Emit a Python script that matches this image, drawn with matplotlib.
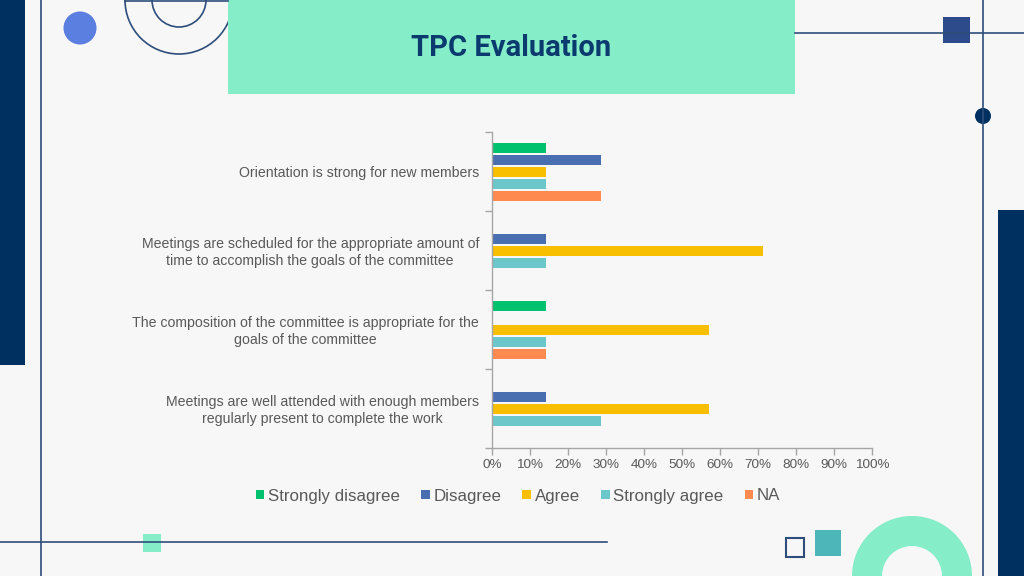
import matplotlib
matplotlib.use("Agg")
import matplotlib.pyplot as plt
from matplotlib.patches import Rectangle, Circle, Wedge, Arc
from matplotlib.lines import Line2D
from matplotlib.transforms import ScaledTranslation
import numpy as np

# ---- data ----
categories = [
    "Orientation is strong for new members",
    "Meetings are scheduled for the appropriate amount of\ntime to accomplish the goals of the committee",
    "The composition of the committee is appropriate for the\ngoals of the committee",
    "Meetings are well attended with enough members\nregularly present to complete the work",
]
series_names = ["Strongly disagree", "Disagree", "Agree", "Strongly agree", "NA"]
strongly_disagree = [14.3, 0, 14.3, 0]
disagree = [28.6, 14.3, 0, 14.3]
agree = [14.3, 71.4, 57.1, 57.1]
strongly_agree = [14.3, 14.3, 14.3, 28.6]
na = [28.6, 0, 14.3, 0]
series_values = [strongly_disagree, disagree, agree, strongly_agree, na]
series_colors = ["#00C16E", "#4A6FB0", "#F8BE00", "#6CC7CB", "#FF8A50"]
x_ticks = [0, 10, 20, 30, 40, 50, 60, 70, 80, 90, 100]
x_tick_labels = [f"{v}%" for v in x_ticks]
title = "TPC Evaluation"

W, H = 1024, 576
BG = "#F7F7F8"
NAVY = "#00305F"
LINE = "#2E4D7A"
FONT = ["Liberation Sans", "DejaVu Sans"]

fig = plt.figure(figsize=(W / 100, H / 100), dpi=100, facecolor=BG)

# ---- decoration layer (pixel coordinates) ----
deco = fig.add_axes([0, 0, 1, 1], zorder=0)
deco.set_xlim(0, W)
deco.set_ylim(H, 0)
deco.axis("off")
deco.set_facecolor(BG)

deco.add_patch(Rectangle((0, 0), 25, 365, color=NAVY, lw=0))
deco.add_patch(Rectangle((998, 210), 26, 366, color=NAVY, lw=0))
deco.add_line(Line2D([41, 41], [0, H], color=LINE, lw=1.2))
deco.add_line(Line2D([983, 983], [0, H], color=LINE, lw=1.2))
deco.add_line(Line2D([795, W], [33, 33], color=LINE, lw=1.2))
deco.add_line(Line2D([0, 607], [542, 542], color=LINE, lw=1.2))
deco.add_line(Line2D([125, 228], [0.5, 0.5], color=LINE, lw=1.2))
deco.add_patch(Circle((80, 28), 16.5, color="#5B7FE0", lw=0))
deco.add_patch(Arc((179, 0), 108, 108, theta1=0, theta2=180, color=LINE, lw=1.2))
deco.add_patch(Arc((179, 0), 54, 54, theta1=0, theta2=180, color=LINE, lw=1.2))
deco.add_patch(Rectangle((228, 0), 567, 94, color="#86EDC9", lw=0))
deco.add_patch(Rectangle((943, 17), 27, 26, color="#2D4A8A", lw=0))
deco.add_patch(Circle((983, 116), 8, color=NAVY, lw=0))
deco.add_patch(Rectangle((143, 534), 18, 18, color="#86EDC9", lw=0))
deco.add_patch(Rectangle((785.5, 537.5), 18, 19, facecolor="none", edgecolor=LINE, lw=1.5))
deco.add_patch(Rectangle((815, 530), 26, 26, color="#4DB6B8", lw=0))
deco.add_patch(Wedge((912, 576), 60, 180, 360, width=30, color="#86EDC9", lw=0))
deco.text(511, 48, title, ha="center", va="center", fontsize=21,
          fontweight="bold", color="#0B3A6E", family="Roboto")

# ---- chart ----
ax = fig.add_axes([492 / W, 1 - 448 / H, 380 / W, 316 / H], zorder=1)
ax.set_facecolor("none")
n = len(series_names)
slot = 12 / 79
bh = 10 / 79
y = np.arange(len(categories))
for i, (name, vals, col) in enumerate(zip(series_names, series_values, series_colors)):
    ax.barh(y + (i - (n - 1) / 2) * slot, vals, height=bh, color=col, label=name)

ax.set_xlim(0, 100)
ax.set_ylim(len(categories) - 0.5, -0.5)
ax.set_xticks(x_ticks)
ax.set_xticklabels(x_tick_labels)
ax.set_yticks(y)
ax.set_yticklabels(categories)
ax.set_yticks(np.arange(-0.5, len(categories), 1), minor=True)
ax.tick_params(axis="y", which="major", length=0, pad=0, labelsize=10.2, labelcolor="#595959")
ax.tick_params(axis="y", which="minor", length=5, color="#A6A6A6", width=1)
ax.tick_params(axis="x", which="major", length=5, color="#A6A6A6", width=1,
               labelsize=9.7, labelcolor="#595959", pad=3)
shift = ScaledTranslation(0, -2 / 100, fig.dpi_scale_trans)
for lbl in ax.get_yticklabels():
    lbl.set_horizontalalignment("right")
    lbl.set_verticalalignment("center")
    lbl.set_multialignment("center")
    lbl.set_linespacing(1.22)
    lbl.set_x(-13 / 380)
    lbl.set_transform(ax.get_yaxis_transform() + shift)
for s in ["top", "right"]:
    ax.spines[s].set_visible(False)
for s in ["left", "bottom"]:
    ax.spines[s].set_color("#A6A6A6")
    ax.spines[s].set_linewidth(1)

for t in ax.get_xticklabels() + ax.get_yticklabels():
    t.set_family(FONT)

handles, labels = ax.get_legend_handles_labels()
leg = fig.legend(handles, labels, loc="center", bbox_to_anchor=(518 / W, 1 - 496 / H),
                 ncol=5, frameon=False, handlelength=0.5, handleheight=0.5,
                 handletextpad=0.22, columnspacing=1.25,
                 prop={"family": FONT, "size": 12.2})
for t in leg.get_texts():
    t.set_color("#595959")

fig.savefig("out.png", dpi=100, facecolor=BG)
